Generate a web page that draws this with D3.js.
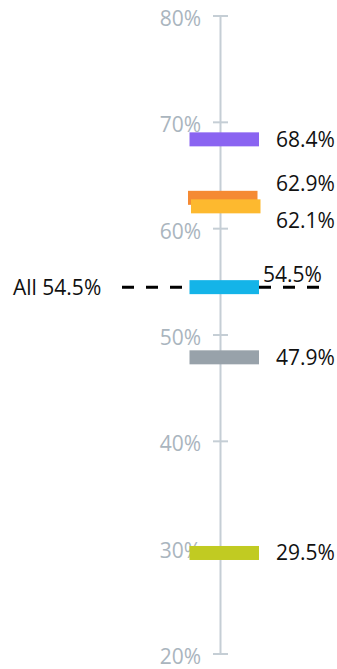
<!DOCTYPE html>
<html>
<head>
<meta charset="utf-8">
<script src="https://cdn.jsdelivr.net/npm/d3@7/dist/d3.min.js"></script>
<style>
  html, body { margin: 0; padding: 0; background: #ffffff; }
  svg { display: block; font-family: "Open Sans", "Noto Sans", sans-serif; }
</style>
</head>
<body>
<svg id="chart" width="337" height="669"></svg>
<script>
// Share per group, in percent
const categories = ["Group A", "Group B", "Group C", "Group D", "Group E", "Group F"];
const values = [68.4, 62.9, 62.1, 54.5, 47.9, 29.5];
const colors = ["#8a64f1", "#f58a33", "#fdb92f", "#14b4e8", "#98a2aa", "#c1cb22"];

// Overall reference value
const overallLabel = "All";
const overallValue = 54.5;

// Axis ticks
const tickValues = [20, 30, 40, 50, 60, 70, 80];

const svg = d3.select("#chart");

const axisX = 220.5;
const y = d3.scaleLinear().domain([20, 80]).range([654, 16]);
const barX = d3.scaleLinear().domain([0, 1]).range([189.5, 259]);
const barH = 14;

const fmt = v => d3.format(".1f")(v) + "%";
const pct = v => v + "%";

// Vertical axis line with cross ticks
svg.append("line")
  .attr("x1", axisX).attr("x2", axisX)
  .attr("y1", y(80)).attr("y2", y(20))
  .attr("stroke", "#c5ced5").attr("stroke-width", 2);

const ticks = svg.append("g").selectAll("g").data(tickValues).join("g");
ticks.append("line")
  .attr("x1", axisX - 7.5).attr("x2", axisX + 7.5)
  .attr("y1", d => y(d)).attr("y2", d => y(d))
  .attr("stroke", "#c5ced5").attr("stroke-width", 2);
ticks.append("text")
  .attr("x", 201)
  .attr("y", d => y(d) + 2.5)
  .attr("dy", "0.35em")
  .attr("text-anchor", "end")
  .attr("fill", "#aab5be")
  .attr("font-size", 21)
  .text(pct);

// Overall reference line: dashed segments either side of the bars
const yAll = y(overallValue);
svg.append("text")
  .attr("x", 13)
  .attr("y", yAll)
  .attr("dy", "0.35em")
  .attr("fill", "#111")
  .attr("font-size", 21)
  .text(overallLabel + " " + fmt(overallValue));

const dash = { stroke: "#000", "stroke-width": 3, "stroke-dasharray": "12,12" };
const leftSeg = svg.append("line")
  .attr("x1", 122).attr("x2", barX(0))
  .attr("y1", yAll).attr("y2", yAll);
const rightSeg = svg.append("line")
  .attr("x1", barX(1)).attr("x2", 320)
  .attr("y1", yAll).attr("y2", yAll);
[leftSeg, rightSeg].forEach(s => Object.entries(dash).forEach(([k, v]) => s.attr(k, v)));

// Bars; bars that touch vertically are nudged apart sideways so both stay visible
const data = categories.map((c, i) => ({ category: c, value: values[i], color: colors[i], dx: 0 }));
const sortedBars = [...data].sort((a, b) => b.value - a.value);
for (let i = 1; i < sortedBars.length; i++) {
  if (y(sortedBars[i].value) - y(sortedBars[i - 1].value) < barH) {
    sortedBars[i - 1].dx = -1.5;
    sortedBars[i].dx = 1.5;
  }
}

svg.append("g").selectAll("rect").data(data).join("rect")
  .attr("x", d => barX(0) + d.dx)
  .attr("width", barX(1) - barX(0))
  .attr("y", d => y(d.value) - barH / 2)
  .attr("height", barH)
  .attr("fill", d => d.color);

// Value labels: spread apart where they would collide
const minGap = 37;
const labels = data.map(d => ({ ...d, ly: y(d.value) })).sort((a, b) => a.ly - b.ly);
for (let iter = 0; iter < 50; iter++) {
  let moved = false;
  for (let i = 1; i < labels.length; i++) {
    const gap = labels[i].ly - labels[i - 1].ly;
    if (gap < minGap) {
      const push = (minGap - gap) / 2;
      labels[i - 1].ly -= push;
      labels[i].ly += push;
      moved = true;
    }
  }
  if (!moved) break;
}

svg.append("g").selectAll("text").data(labels).join("text")
  .attr("x", d => d.value === overallValue ? barX(1) + 4 : barX(1) + 17)
  .attr("y", d => d.value === overallValue ? d.ly - 13 : d.ly)
  .attr("dy", "0.35em")
  .attr("fill", "#111")
  .attr("font-size", 21)
  .text(d => fmt(d.value));
</script>
</body>
</html>
